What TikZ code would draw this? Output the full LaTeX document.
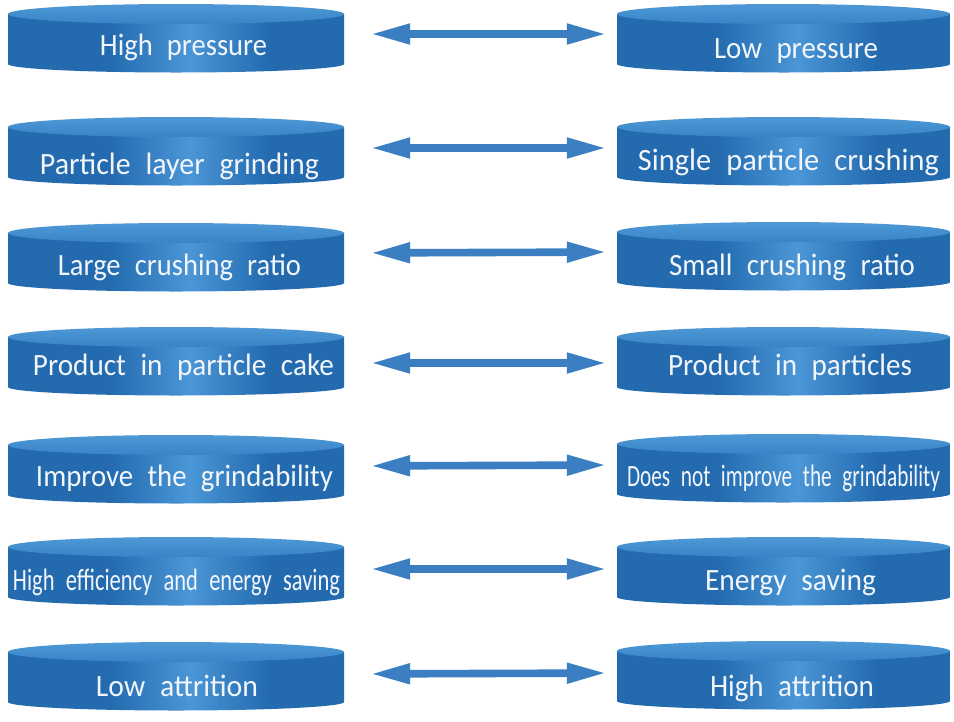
\documentclass[tikz,border=0pt]{standalone}
\usepackage{fontspec}
\setmainfont{Carlito}[WordSpace=2.2]
\usetikzlibrary{arrows.meta}
\definecolor{sideDk}{HTML}{175A9C}
\definecolor{sideMd}{HTML}{236AAF}
\definecolor{sideLt}{HTML}{4A96D6}
\definecolor{topLt}{HTML}{4E98D5}
\definecolor{topDk}{HTML}{3784C7}
\definecolor{arrowc}{HTML}{3B7FC2}
\definecolor{txtc}{HTML}{F2F6FB}
\pgfdeclarehorizontalshading{discside}{100bp}{color(0bp)=(sideDk); color(22bp)=(sideMd); color(40bp)=(sideMd); color(52bp)=(sideLt); color(64bp)=(sideMd); color(80bp)=(sideMd); color(100bp)=(sideDk)}
\newcommand\fitw[2]{\resizebox{#1pt}{\height}{#2}}
\newcommand\drawdisc[4]{%
  \pgfmathsetmacro\dtop{#3+10}%
  \pgfmathsetmacro\dbot{#3+60}%
  \pgfmathsetmacro\dl{#2-#4}%
  \pgfmathsetmacro\dr{#2+#4}%
  \pgfmathsetmacro\dmid{#3+32}%
  \path[shading=discside] (\dl,\dtop) -- (\dl,\dbot) arc[start angle=180,end angle=360,x radius=#4pt,y radius=8.5pt] -- (\dr,\dtop) -- cycle;
  \path[top color=topLt,bottom color=topDk] (#2,\dtop) ellipse[x radius=#4pt,y radius=10pt];
  \node[discbox,minimum width={2*#4pt}] (#1) at (#2,\dmid) {};
}
\begin{document}
\begin{tikzpicture}[x=1pt,y=-1pt,
  discbox/.style={draw=none,fill=none,inner sep=0pt,minimum height=60pt},
  lbl/.style={anchor=base,inner sep=0pt,text=txtc,font=\fontsize{31}{33}\selectfont},
  bigarrow/.style={draw=arrowc,line width=7.6pt,{Triangle[width=19pt,length=40pt]}-{Triangle[width=19pt,length=40pt]},shorten <=26pt,shorten >=10pt}]
\useasboundingbox[fill=white] (0,0) rectangle (954,721);
% discs
\drawdisc{L1}{176}{4}{168}
\drawdisc{R1}{783.5}{4}{166.5}
\drawdisc{L2}{176}{117}{168}
\drawdisc{R2}{783.5}{117}{166.5}
\drawdisc{L3}{176}{223}{168}
\drawdisc{R3}{783.5}{222}{166.5}
\drawdisc{L4}{176}{327}{168}
\drawdisc{R4}{783.5}{327}{166.5}
\drawdisc{L5}{176}{435}{168}
\drawdisc{R5}{783.5}{434}{166.5}
\drawdisc{L6}{176}{537}{168}
\drawdisc{R6}{783.5}{537}{166.5}
\drawdisc{L7}{176}{642}{168}
\drawdisc{R7}{783.5}{641}{166.5}
% labels
\node[lbl] (Lt1) at (183.5,55) {\fitw{167}{High pressure}};
\node[lbl] (Rt1) at (796,58) {\fitw{164}{Low pressure}};
\node[lbl] (Lt2) at (179.5,174) {\fitw{279}{Particle layer grinding}};
\node[lbl] (Rt2) at (788.5,170) {\fitw{301}{Single particle crushing}};
\node[lbl] (Lt3) at (179.5,275) {\fitw{243}{Large crushing ratio}};
\node[lbl] (Rt3) at (792,275) {\fitw{246}{Small crushing ratio}};
\node[lbl] (Lt4) at (183.5,375) {\fitw{301}{Product in particle cake}};
\node[lbl] (Rt4) at (790,375) {\fitw{244}{Product in particles}};
\node[lbl] (Lt5) at (184.5,486) {\fitw{297}{Improve the grindability}};
\node[lbl] (Rt5) at (783.5,486) {\fitw{313}{Does not improve the grindability}};
\node[lbl] (Lt6) at (176.5,590) {\fitw{327}{High efficiency and energy saving}};
\node[lbl] (Rt6) at (790.5,590) {\fitw{171}{Energy saving}};
\node[lbl] (Lt7) at (177,696) {\fitw{162}{Low attrition}};
\node[lbl] (Rt7) at (792,696) {\fitw{164}{High attrition}};
% arrows
\draw[bigarrow] ([yshift=2pt]L1.east) -- ([yshift=2pt]R1.west);
\draw[bigarrow] ([yshift=1pt]L2.east) -- ([yshift=1pt]R2.west);
\draw[bigarrow] ([yshift=2pt]L3.east) -- ([yshift=2pt]R3.west);
\draw[bigarrow] ([yshift=-4pt]L4.east) -- ([yshift=-4pt]R4.west);
\draw[bigarrow] ([yshift=1pt]L5.east) -- ([yshift=1pt]R5.west);
\draw[bigarrow] (L6.east) -- (R6.west);
\draw[bigarrow] (L7.east) -- (R7.west);
\end{tikzpicture}
\end{document}
